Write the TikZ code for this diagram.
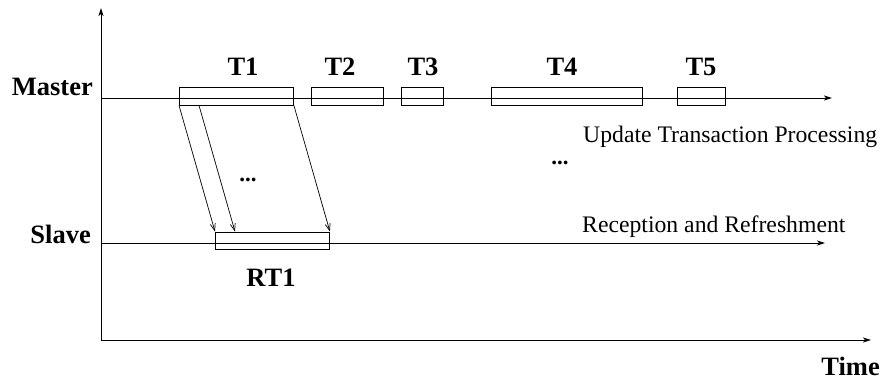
\documentclass[tikz,border=0pt]{standalone}
\usepackage{fontspec}
\setmainfont{Liberation Serif}
\usetikzlibrary{arrows.meta}
\tikzset{
  axisline/.style={line width=0.9pt,-{Stealth[length=8pt,width=5pt,inset=2pt]}},
  msg/.style={line width=0.7pt,-{Straight Barb[length=7pt,width=5pt]}},
  tbox/.style={draw,line width=0.9pt,minimum height=18pt,inner sep=0pt,anchor=west},
  blabel/.style={font=\fontsize{26.5}{30}\selectfont\bfseries,inner sep=0pt},
  rlabel/.style={font=\fontsize{23.7}{28}\selectfont,inner sep=0pt},
  dots/.style={font=\fontsize{23}{28}\selectfont\bfseries,inner sep=0pt}
}
\begin{document}
\begin{tikzpicture}[x=1pt,y=-1pt]
\useasboundingbox (0,0) rectangle (883,381);
% axes
\coordinate (O) at (101,340);
\coordinate (ytop) at (101,8);
\coordinate (xend) at (871,340);
\draw[axisline] (O) -- (ytop);
\draw[axisline] (O) -- (xend);
% master and slave lines
\coordinate (ms) at (101,98);
\coordinate (me) at (832,98);
\coordinate (ss) at (101,243);
\coordinate (se) at (825,243);
\draw[axisline] (ms) -- (me);
\draw[axisline] (ss) -- (se);
% transaction boxes
\node[tbox,minimum width=114pt] (T1) at (179,96) {};
\node[tbox,minimum width=72pt] (T2) at (311,96) {};
\node[tbox,minimum width=42pt] (T3) at (401,96) {};
\node[tbox,minimum width=151pt] (T4) at (491,96) {};
\node[tbox,minimum width=48pt] (T5) at (677,96) {};
\node[tbox,minimum width=114pt,minimum height=17pt] (RT1) at (215,240.5) {};
% labels
\node[blabel,anchor=base] (l1) at (243,75) {T1};
\node[blabel,anchor=base] (l2) at (340,75) {T2};
\node[blabel,anchor=base] (l3) at (423,75) {T3};
\node[blabel,anchor=base] (l4) at (562,75) {T4};
\node[blabel,anchor=base] (l5) at (701,75) {T5};
\node[blabel,anchor=base] (lrt) at (271,286) {RT1};
\node[blabel,anchor=base east] (master) at (93,95) {Master};
\node[blabel,anchor=base east] (slave) at (91,243) {Slave};
\node[blabel,anchor=base east] (time) at (880,375) {Time};
\node[rlabel,anchor=base west] (upd) at (583,142) {Update Transaction Processing};
\node[rlabel,anchor=base west] (rec) at (582,232) {Reception and Refreshment};
\node[dots] (d1) at (248,180) {...};
\node[dots] (d2) at (560,163) {...};
% messages
\draw[msg] (T1.south west) -- (RT1.north west);
\draw[msg] ([xshift=20pt]T1.south west) -- ([xshift=20pt]RT1.north west);
\draw[msg] (T1.south east) -- (RT1.north east);
\end{tikzpicture}
\end{document}
